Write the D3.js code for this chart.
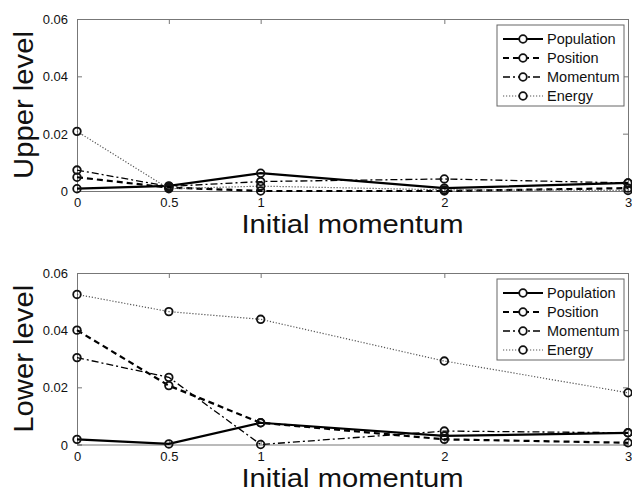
<!DOCTYPE html>
<html><head><meta charset="utf-8">
<script src="https://cdn.jsdelivr.net/npm/d3@7"></script>
<style>body{margin:0;background:#fff}svg{display:block}text{font-family:"Liberation Sans",Arial,sans-serif}</style>
</head><body><svg id="c" width="632" height="493"></svg>
<script>
const xValues = [0, 0.5, 1, 2, 3];
const xTicks = [0, 0.5, 1, 2, 3];
const yTicks = [0, 0.02, 0.04, 0.06];
const seriesNames = ["Population", "Position", "Momentum", "Energy"];
const upperPopulation = [0.0008, 0.0018, 0.0062, 0.0010, 0.0028];
const upperPosition   = [0.0048, 0.0012, 0.0000, 0.0000, 0.0010];
const upperMomentum   = [0.0073, 0.0016, 0.0033, 0.0042, 0.0028];
const upperEnergy     = [0.0208, 0.0008, 0.0017, 0.0004, 0.0002];
const lowerPopulation = [0.0018, 0.0002, 0.0076, 0.0030, 0.0041];
const lowerPosition   = [0.0400, 0.0206, 0.0076, 0.0018, 0.0006];
const lowerMomentum   = [0.0304, 0.0235, 0.0000, 0.0047, 0.0041];
const lowerEnergy     = [0.0525, 0.0465, 0.0438, 0.0292, 0.0181];

const styles = [
  {dash: null, w: 2.2, c: "#000"},
  {dash: "6,4", w: 2.2, c: "#000"},
  {dash: "7,3,2,3", w: 1.3, c: "#000"},
  {dash: "1.2,1.8", w: 1.2, c: "#555"}
];

const svg = d3.select("#c");
const panels = [
  {top: 19, bottom: 191, label: "Upper level", data: [upperPopulation, upperPosition, upperMomentum, upperEnergy], legendY: 25},
  {top: 273, bottom: 444.5, label: "Lower level", data: [lowerPopulation, lowerPosition, lowerMomentum, lowerEnergy], legendY: 279}
];
const left = 77, right = 628;

panels.forEach(p => {
  const x = d3.scaleLinear().domain([0, 3]).range([left, right]);
  const y = d3.scaleLinear().domain([0, 0.06]).range([p.bottom, p.top]);
  const g = svg.append("g");
  const fmt = d => d === 0 ? "0" : d3.format(".2f")(d);
  const ax = g.append("g").attr("transform", `translate(0,${p.bottom})`)
    .call(d3.axisBottom(x).tickValues(xTicks).tickSize(-5).tickPadding(7).tickFormat(d => d));
  const axT = g.append("g").attr("transform", `translate(0,${p.top})`)
    .call(d3.axisTop(x).tickValues(xTicks).tickSize(-5).tickFormat(""));
  const ay = g.append("g").attr("transform", `translate(${left},0)`)
    .call(d3.axisLeft(y).tickValues(yTicks).tickSize(-5).tickPadding(9).tickFormat(fmt));
  const ayR = g.append("g").attr("transform", `translate(${right},0)`)
    .call(d3.axisRight(y).tickValues(yTicks).tickSize(-5).tickFormat(""));
  [ax, axT, ay, ayR].forEach(a => {
    a.selectAll("path").attr("stroke", "#777").attr("stroke-width", 1);
    a.selectAll("line").attr("stroke", "#777");
    a.selectAll("text").attr("font-size", 13).attr("fill", "#111");
  });
  ay.selectAll("text").attr("dy", "0.35em");

  p.data.forEach((vals, i) => {
    const st = styles[i];
    const line = d3.line().x((d, j) => x(xValues[j])).y(d => y(d));
    g.append("path").datum(vals).attr("d", line).attr("fill", "none")
      .attr("stroke", st.c).attr("stroke-width", st.w)
      .attr("stroke-dasharray", st.dash);
    g.selectAll(null).data(vals).enter().append("circle")
      .attr("cx", (d, j) => x(xValues[j])).attr("cy", d => y(d)).attr("r", 3.8)
      .attr("fill", "none").attr("stroke", "#111").attr("stroke-width", 1.8);
  });

  g.append("text").attr("x", (left + right) / 2).attr("y", p.bottom + 42)
    .attr("text-anchor", "middle").attr("font-size", 25).attr("fill", "#111")
    .attr("textLength", 222).attr("lengthAdjust", "spacingAndGlyphs").text("Initial momentum");
  g.append("text").attr("transform", `translate(33,${(p.top + p.bottom) / 2}) rotate(-90)`)
    .attr("text-anchor", "middle").attr("font-size", 28).attr("fill", "#111")
    .attr("textLength", 148).attr("lengthAdjust", "spacingAndGlyphs").text(p.label);

  const lg = g.append("g").attr("transform", `translate(497,${p.legendY})`);
  lg.append("rect").attr("width", 127).attr("height", 81).attr("fill", "#fff")
    .attr("stroke", "#666").attr("stroke-width", 1);
  seriesNames.forEach((name, i) => {
    const st = styles[i];
    const cy = 14 + i * 19;
    lg.append("line").attr("x1", 6).attr("x2", 46).attr("y1", cy).attr("y2", cy)
      .attr("stroke", st.c).attr("stroke-width", st.w).attr("stroke-dasharray", st.dash);
    lg.append("circle").attr("cx", 26).attr("cy", cy).attr("r", 3.8)
      .attr("fill", "#fff").attr("stroke", "#111").attr("stroke-width", 1.8);
    lg.append("text").attr("x", 50).attr("y", cy).attr("dy", "0.35em")
      .attr("font-size", 14.5).attr("fill", "#111").text(name);
  });
});
</script></body></html>
